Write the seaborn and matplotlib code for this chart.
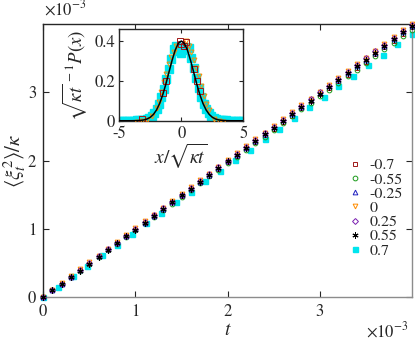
"""plot.py — variance growth of the walker for several asymmetry values, with a PDF inset."""

import matplotlib
matplotlib.use("Agg")
import matplotlib.pyplot as plt
import matplotlib.ticker as mticker
import numpy as np
import seaborn as sns

# ---------------------------------------------------------------------------
# Data (main panel in units of 1e-3)
# ---------------------------------------------------------------------------

T_MS = [0.0, 0.1, 0.2, 0.3, 0.4, 0.5, 0.6, 0.7, 0.8, 0.9,
        1.0, 1.1, 1.2, 1.3, 1.4, 1.5, 1.6, 1.7, 1.8, 1.9,
        2.0, 2.1, 2.2, 2.3, 2.4, 2.5, 2.6, 2.7, 2.8, 2.9,
        3.0, 3.1, 3.2, 3.3, 3.4, 3.5, 3.6, 3.7, 3.8, 3.9, 4.0]

VAR_M070 = [0.00, 0.10, 0.20, 0.29, 0.40, 0.49, 0.60, 0.69, 0.79, 0.89,
            0.99, 1.09, 1.19, 1.28, 1.39, 1.48, 1.58, 1.69, 1.78, 1.88,
            1.98, 2.07, 2.18, 2.27, 2.38, 2.47, 2.57, 2.66, 2.77, 2.87,
            2.97, 3.06, 3.17, 3.26, 3.36, 3.45, 3.56, 3.66, 3.76, 3.85, 3.96]
VAR_M055 = [0.00, 0.10, 0.19, 0.30, 0.39, 0.49, 0.59, 0.69, 0.78, 0.88,
            0.98, 1.08, 1.18, 1.28, 1.37, 1.47, 1.57, 1.67, 1.77, 1.86,
            1.96, 2.06, 2.16, 2.26, 2.35, 2.45, 2.55, 2.65, 2.75, 2.84,
            2.94, 3.04, 3.14, 3.24, 3.33, 3.43, 3.53, 3.63, 3.73, 3.82, 3.92]
VAR_M025 = [0.00, 0.10, 0.20, 0.30, 0.40, 0.50, 0.60, 0.70, 0.80, 0.90,
            1.00, 1.09, 1.19, 1.29, 1.39, 1.49, 1.59, 1.69, 1.79, 1.89,
            1.99, 2.09, 2.19, 2.29, 2.39, 2.49, 2.59, 2.69, 2.79, 2.89,
            2.99, 3.09, 3.18, 3.28, 3.38, 3.48, 3.58, 3.68, 3.78, 3.88, 3.98]
VAR_P000 = [0.00, 0.10, 0.21, 0.31, 0.41, 0.51, 0.61, 0.71, 0.81, 0.91,
            1.01, 1.11, 1.21, 1.31, 1.41, 1.51, 1.61, 1.71, 1.81, 1.91,
            2.01, 2.11, 2.21, 2.31, 2.41, 2.51, 2.61, 2.71, 2.81, 2.91,
            3.01, 3.11, 3.21, 3.31, 3.41, 3.51, 3.61, 3.71, 3.81, 3.91, 4.00]
VAR_P025 = [0.00, 0.10, 0.20, 0.30, 0.40, 0.50, 0.60, 0.70, 0.80, 0.90,
            1.00, 1.10, 1.20, 1.30, 1.40, 1.50, 1.60, 1.70, 1.80, 1.90,
            2.00, 2.10, 2.20, 2.30, 2.40, 2.50, 2.60, 2.70, 2.80, 2.90,
            3.00, 3.10, 3.20, 3.30, 3.40, 3.50, 3.60, 3.70, 3.80, 3.90, 3.99]
VAR_P055 = [0.00, 0.10, 0.20, 0.30, 0.39, 0.49, 0.59, 0.69, 0.79, 0.89,
            0.99, 1.09, 1.19, 1.29, 1.39, 1.49, 1.59, 1.69, 1.79, 1.89,
            1.99, 2.09, 2.19, 2.29, 2.39, 2.48, 2.58, 2.68, 2.78, 2.88,
            2.98, 3.08, 3.18, 3.28, 3.38, 3.48, 3.58, 3.68, 3.78, 3.88, 3.97]

T_CYAN = [0.00, 0.16, 0.32, 0.48, 0.64, 0.80, 0.96, 1.12, 1.28, 1.44,
          1.60, 1.76, 1.92, 2.08, 2.24, 2.40, 2.56, 2.72, 2.88, 3.04,
          3.20, 3.36, 3.52, 3.68, 3.84, 4.00]
VAR_P070 = [0.00, 0.15, 0.31, 0.46, 0.62, 0.77, 0.93, 1.08, 1.24, 1.39,
            1.54, 1.70, 1.85, 2.01, 2.16, 2.32, 2.47, 2.62, 2.78, 2.93,
            3.09, 3.24, 3.40, 3.55, 3.71, 3.86]

LABELS = ["-0.7", "-0.55", "-0.25", "0", "0.25", "0.55", "0.7"]

# Inset: rescaled PDF
GX = [-5.0, -4.75, -4.5, -4.25, -4.0, -3.75, -3.5, -3.25, -3.0, -2.75,
      -2.5, -2.25, -2.0, -1.75, -1.5, -1.25, -1.0, -0.75, -0.5, -0.25,
      0.0, 0.25, 0.5, 0.75, 1.0, 1.25, 1.5, 1.75, 2.0, 2.25,
      2.5, 2.75, 3.0, 3.25, 3.5, 3.75, 4.0, 4.25, 4.5, 4.75, 5.0]
GY = [0.0000, 0.0000, 0.0000, 0.0000, 0.0001, 0.0004, 0.0009, 0.0020, 0.0044, 0.0091,
      0.0175, 0.0317, 0.0540, 0.0863, 0.1295, 0.1826, 0.2420, 0.3011, 0.3521, 0.3867,
      0.3989, 0.3867, 0.3521, 0.3011, 0.2420, 0.1826, 0.1295, 0.0863, 0.0540, 0.0317,
      0.0175, 0.0091, 0.0044, 0.0020, 0.0009, 0.0004, 0.0001, 0.0000, 0.0000, 0.0000, 0.0000]

CX = [-5.0, -4.8, -4.6, -4.4, -4.2, -4.0, -3.8, -3.6, -3.4, -3.2,
      -3.0, -2.8, -2.6, -2.4, -2.2, -2.0, -1.8, -1.6, -1.4, -1.2,
      -1.0, -0.8, -0.6, -0.4, -0.2, 0.0, 0.2, 0.4, 0.6, 0.8,
      1.0, 1.2, 1.4, 1.6, 1.8, 2.0, 2.2, 2.4, 2.6, 2.8,
      3.0, 3.2, 3.4, 3.6, 3.8, 4.0, 4.2, 4.4, 4.6, 4.8, 5.0]
CY = [0.000, 0.000, 0.000, 0.000, 0.000, 0.001, 0.001, 0.002, 0.002, 0.003,
      0.005, 0.008, 0.014, 0.024, 0.038, 0.058, 0.085, 0.120, 0.160, 0.210,
      0.260, 0.310, 0.360, 0.372, 0.350, 0.338, 0.352, 0.370, 0.362, 0.312,
      0.262, 0.212, 0.162, 0.121, 0.086, 0.059, 0.038, 0.024, 0.014, 0.008,
      0.005, 0.003, 0.002, 0.002, 0.001, 0.001, 0.000, 0.000, 0.000, 0.000, 0.000]

OX = [-3.6, -3.2, -2.8, -2.4, -2.0, -1.8, -1.6, -1.4, -1.2, -1.0, -0.8, -0.6, -0.4,
      0.4, 0.6, 0.8, 1.0, 1.2, 1.4, 1.6, 1.8, 2.0, 2.2, 2.6, 3.0, 3.4]
OY = [-0.004, -0.003, 0.004, 0.022, 0.064, 0.095, 0.142, 0.192, 0.232, 0.282, 0.320, 0.345, 0.372,
      0.398, 0.372, 0.342, 0.302, 0.262, 0.222, 0.172, 0.122, 0.082, 0.052, 0.010, -0.003, -0.004]

RX = [-3.2, -1.5, -1.2, -0.1, 0.0, 0.2, 0.4, 1.0, 1.3, 1.5]
RY = [0.008, 0.140, 0.200, 0.400, 0.385, 0.375, 0.395, 0.260, 0.200, 0.150]

# ---------------------------------------------------------------------------
# Style
# ---------------------------------------------------------------------------

sns.set_theme(style="ticks")
plt.rcParams["font.family"] = ["STIXGeneral", "Liberation Serif", "DejaVu Serif"]
plt.rcParams["mathtext.fontset"] = "stix"
plt.rcParams["axes.unicode_minus"] = False
plt.rcParams["font.size"] = 12

DARK = "#262626"
GREY = "#8c8c8c"

fig = plt.figure(figsize=(4.15, 3.5), dpi=100)
ax = fig.add_axes([0.104, 0.151, 0.889, 0.78])

t = np.array(T_MS) * 1e-3
series = [
    (VAR_M070, "s", "#a01818", 3.4),
    (VAR_M055, "o", "#1a9a1a", 3.4),
    (VAR_M025, "^", "#2020c0", 3.4),
    (VAR_P000, "v", "#ff8c00", 3.4),
    (VAR_P025, "D", "#7a1fb0", 3.0),
    (VAR_P055, (6, 2, 0), "black", 4.4),
]

# cyan squares sit underneath the open markers
ax.plot(np.array(T_CYAN) * 1e-3, np.array(VAR_P070) * 1e-3, ls="none", marker="s",
        ms=3.6, color="#00e5ee", mec="#00e5ee", clip_on=False, zorder=2, label=LABELS[6])
for (vals, mk, col, ms), lab in zip(series, LABELS[:6]):
    ax.plot(t, np.array(vals) * 1e-3, ls="none", marker=mk, ms=ms, mew=0.7,
            mfc="none", mec=col, color=col, clip_on=False, zorder=3, label=lab)

ax.set_xlim(0, 4e-3)
ax.set_ylim(0, 4e-3)
ax.set_xticks([0, 1e-3, 2e-3, 3e-3])
ax.set_yticks([0, 1e-3, 2e-3, 3e-3])
scaled = mticker.FuncFormatter(lambda v, p: f"{v * 1e3:g}")
ax.xaxis.set_major_formatter(scaled)
ax.yaxis.set_major_formatter(scaled)

ax.tick_params(direction="in", length=4, width=0.8, top=True, right=True,
               labelsize=12, color=DARK, pad=5)
for tick in ax.xaxis.get_major_ticks():
    tick.tick1line.set_color(GREY)
for tick in ax.yaxis.get_major_ticks():
    tick.tick2line.set_color(GREY)
for side in ("top", "left"):
    ax.spines[side].set_color(DARK)
for side in ("bottom", "right"):
    ax.spines[side].set_color(GREY)
for sp in ax.spines.values():
    sp.set_linewidth(1.0)

ax.set_xlabel(r"$t$", fontsize=14, labelpad=1)
ax.set_ylabel(r"$\langle \xi_t^2 \rangle/\kappa$", fontsize=15, labelpad=0)

# multiplier labels of both axes
fig.text(0.105, 0.945, r"$\times 10^{-3}$", fontsize=12, ha="left", va="bottom")
fig.text(0.985, 0.025, r"$\times 10^{-3}$", fontsize=12, ha="right", va="bottom")

handles, labels = ax.get_legend_handles_labels()
order = [1, 2, 3, 4, 5, 6, 0]
ax.legend([handles[i] for i in order], [labels[i] for i in order],
          loc="lower right", bbox_to_anchor=(1.0, 0.11), frameon=False,
          fontsize=11.5, handlelength=0.8, handletextpad=0.5, labelspacing=0.0,
          borderaxespad=0.2)

# ---------------------------------------------------------------------------
# Inset
# ---------------------------------------------------------------------------

ins = fig.add_axes([0.2875, 0.655, 0.2988, 0.261])
ins.set_facecolor("white")
ins.plot(CX, CY, ls="none", marker="s", ms=5.5, color="#00e5ee", mec="#00e5ee", zorder=2)
ins.plot(OX, OY, ls="none", marker="v", ms=3.5, mfc="none", mec="#ff8c00", mew=0.7, zorder=3)
ins.plot(RX, RY, ls="none", marker="s", ms=4.5, mfc="none", mec="#a01818", mew=0.7, zorder=3)
sns.lineplot(x=GX, y=GY, ax=ins, color="black", linewidth=1.1, zorder=4)

ins.set_xlim(-5, 5)
ins.set_ylim(0, 0.457)
ins.set_xticks([-5, 0, 5])
ins.set_yticks([0, 0.2, 0.4])
ins.yaxis.set_major_formatter(mticker.FuncFormatter(lambda v, p: "0" if v == 0 else f"{v:.1f}"))
ins.tick_params(direction="in", length=3, width=0.8, top=True, right=True,
                labelsize=12, color=DARK, pad=3)
ins.tick_params(axis="x", pad=4)
for sp in ins.spines.values():
    sp.set_color(DARK)
    sp.set_linewidth(1.0)
ins.set_xlabel(r"$x/\sqrt{\kappa t}$", fontsize=14, labelpad=0)
ins.set_ylabel(r"$\sqrt{\kappa t}^{\,-1} P(x)$", fontsize=13.5, labelpad=4)

fig.savefig("out.png", dpi=100)
plt.close(fig)
